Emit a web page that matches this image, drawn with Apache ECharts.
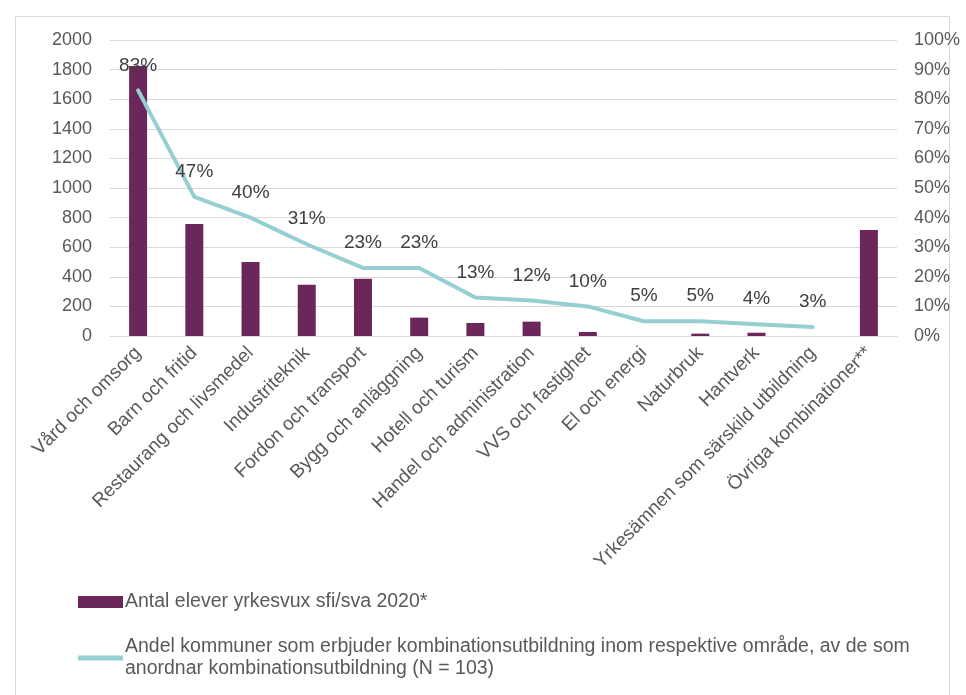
<!DOCTYPE html>
<html>
<head>
<meta charset="utf-8">
<script src="https://cdn.jsdelivr.net/npm/echarts@6/dist/echarts.min.js"></script>
<style>html,body{margin:0;padding:0;background:#fff}#c{width:966px;height:695px}</style>
</head>
<body>
<div id="c"></div>
<script>
const categories = ["Vård och omsorg","Barn och fritid","Restaurang och livsmedel","Industriteknik","Fordon och transport","Bygg och anläggning","Hotell och turism","Handel och administration","VVS och fastighet","El och energi","Naturbruk","Hantverk","Yrkesämnen som särskild utbildning","Övriga kombinationer**"];
const elever = [1824, 757, 500, 347, 387, 124, 88, 97, 27, 0, 16, 22, 0, 716];
const andel = [83, 47, 40, 31, 23, 23, 13, 12, 10, 5, 5, 4, 3, '-'];
const leftTicks = {min: 0, max: 2000, interval: 200};
const rightTicks = {min: 0, max: 100, interval: 10};
const barName = "Antal elever yrkesvux sfi/sva 2020*";
const lineName = "Andel kommuner som erbjuder kombinationsutbildning inom respektive område, av de som\nanordnar kombinationsutbildning (N = 103)";

const font = "Liberation Sans, Arial, sans-serif";
const chart = echarts.init(document.getElementById('c'));
chart.setOption({
  animation: false,
  textStyle: {fontFamily: font},
  graphic: [{type: 'rect', shape: {x: 15.5, y: 16.5, width: 934, height: 700}, style: {fill: 'none', stroke: '#d9d9d9', lineWidth: 1}}],
  grid: {left: 110, right: 69, top: 40, bottom: 359},
  legend: [
    {data: [barName], orient: 'vertical', left: 78, top: 592, padding: 0, itemWidth: 45, itemHeight: 12, itemGap: 0, icon: 'rect',
     textStyle: {fontSize: 19.5, color: '#595959', fontFamily: font, padding: [0,0,0,-3]}},
    {data: [lineName], orient: 'vertical', left: 78, top: 636, padding: 0, itemWidth: 45, itemHeight: 5, icon: 'roundRect',
     textStyle: {fontSize: 19.5, color: '#595959', fontFamily: font, lineHeight: 22, padding: [0,0,0,-3]}}
  ],
  xAxis: {
    type: 'category', data: categories,
    axisLine: {lineStyle: {color: '#d9d9d9'}}, axisTick: {show: false},
    axisLabel: {rotate: 45, fontSize: 19, color: '#595959', interval: 0, margin: 14, fontFamily: font}
  },
  yAxis: [
    {type: 'value', min: leftTicks.min, max: leftTicks.max, interval: leftTicks.interval,
     axisLine: {show: false}, axisTick: {show: false},
     axisLabel: {fontSize: 18, color: '#595959', margin: 18, fontFamily: font, formatter: v => String(v)},
     splitLine: {lineStyle: {color: '#d9d9d9', width: 1}}},
    {type: 'value', min: rightTicks.min, max: rightTicks.max, interval: rightTicks.interval,
     axisLine: {show: false}, axisTick: {show: false},
     axisLabel: {fontSize: 18, color: '#595959', margin: 17, formatter: '{value}%', fontFamily: font},
     splitLine: {show: false}}
  ],
  series: [
    {name: barName, type: 'bar', data: elever, barWidth: 18, itemStyle: {color: '#6b2759'}, yAxisIndex: 0},
    {name: lineName, type: 'line', data: andel, yAxisIndex: 1, symbol: 'circle', symbolSize: 1, showSymbol: true,
     lineStyle: {color: '#96cfd2', width: 4, cap: 'round', join: 'round'}, itemStyle: {color: '#96cfd2'},
     labelLayout: {hideOverlap: false},
     label: {show: true, position: 'top', distance: 15, formatter: '{c}%', fontSize: 19, color: '#404040', fontFamily: font}}
  ]
});
</script>
</body>
</html>
